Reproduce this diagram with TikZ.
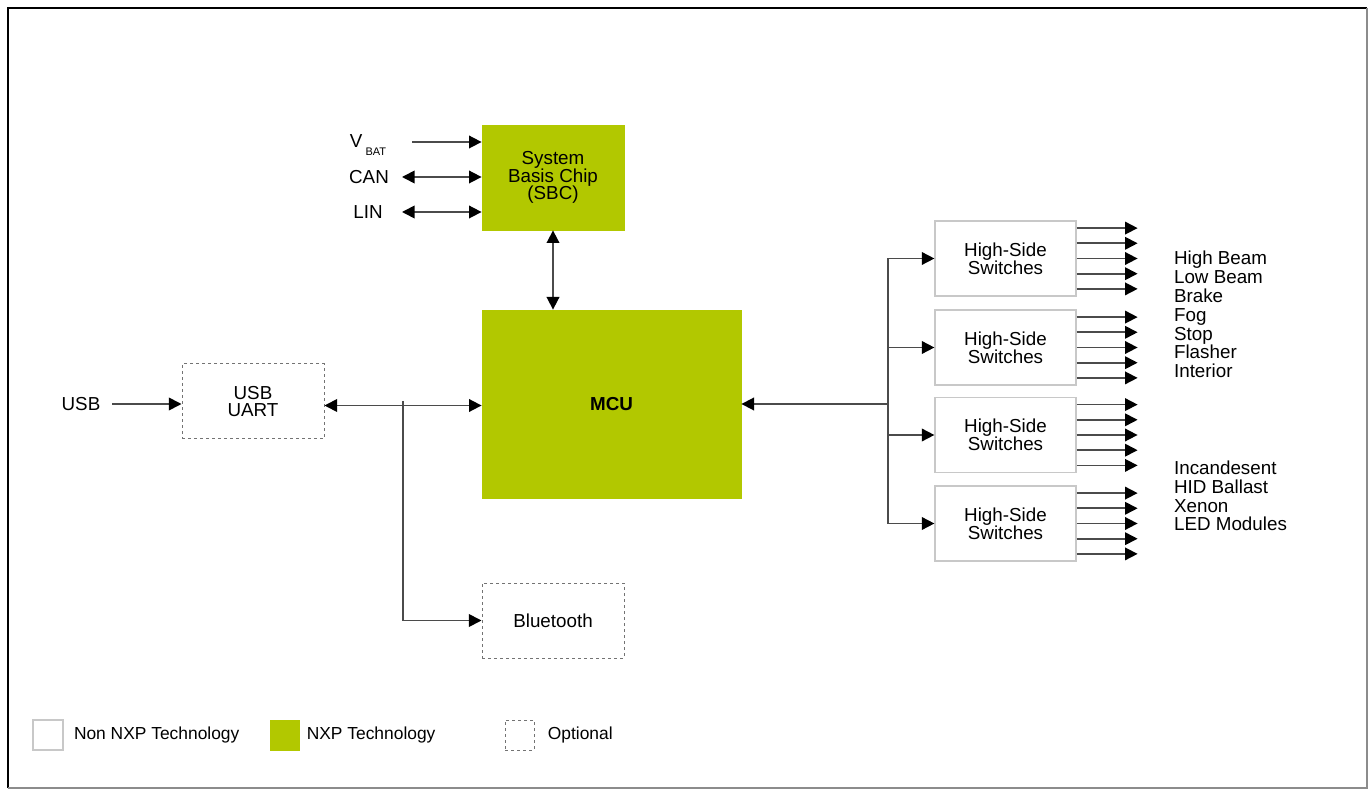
\documentclass[tikz,border=0pt]{standalone}
\usepackage{fontspec}
\setmainfont{Liberation Sans}
\usetikzlibrary{positioning,arrows.meta}
\definecolor{nxpgreen}{RGB}{178,200,0}
\definecolor{linegray}{RGB}{75,75,75}
\definecolor{boxgray}{RGB}{200,200,200}

\begin{document}
\begin{tikzpicture}[x=0.5pt,y=-0.5pt,
        font=\fontsize{9.4}{8.9}\selectfont,
        nxp/.style={fill=nxpgreen,draw=nxpgreen,align=center,inner sep=0pt},
        nonnxp/.style={draw=boxgray,line width=0.6pt,align=center,inner sep=0pt},
        optional/.style={draw=black!55,dash pattern=on 1.5pt off 1.5pt,line width=0.5pt,align=center,inner sep=0pt},
        arr/.style={draw=linegray,line width=0.85pt,-{Triangle[length=6.3pt,width=6.3pt,color=black]}},
        dbl/.style={draw=linegray,line width=0.85pt,{Triangle[length=6.3pt,width=6.3pt,color=black]}-{Triangle[length=6.3pt,width=6.3pt,color=black]}},
        legend/.style={inner sep=0pt,font=\fontsize{8.7}{9}\selectfont}]
    \useasboundingbox (0,0) rectangle (1369,790);
    % frame
    \draw[black,line width=1.2pt] (8,788) -- (8,8) -- (1367,8);
    \draw[black!45,line width=0.8pt] (8,788) -- (1367,788) -- (1367,8);

    % blocks
    \node[nxp,minimum width=71pt,minimum height=52.5pt] (sbc) at (553,177.5) {System\\Basis Chip\\(SBC)};
    \node[nxp,minimum width=129.5pt,minimum height=94pt,font=\fontsize{9.4}{9}\selectfont\bfseries] (mcu) at (611.5,404) {MCU};
    \node[optional,minimum width=71pt,minimum height=37.5pt] (uart) at (253,401.5) {USB\\UART};
    \node[optional,minimum width=71pt,minimum height=37.5pt] (bt) at (553,620.5) {Bluetooth};
    \foreach \i/\y in {1/258.5,2/347.5,3/435,4/523.5}
        \node[nonnxp,minimum width=70.5pt,minimum height=37.5pt] (sw\i) at (1005.5,\y) {High-Side\\Switches};

    % labels
    \node (usb) at (81,404) {USB};
    \node (vbat) at (368,145) {V\,\raisebox{-0.8ex}{\fontsize{5.5}{6}\selectfont BAT}};
    \node (can) at (369,177) {CAN};
    \node (lin) at (368,212) {LIN};
    \node[anchor=west,align=left,font=\fontsize{9.4}{9.4}\selectfont] (loadsa) at (1167,314.5) {High Beam\\Low Beam\\Brake\\Fog\\Stop\\Flasher\\Interior};
    \node[anchor=west,align=left,font=\fontsize{9.4}{9.4}\selectfont] (loadsb) at (1167,496) {Incandesent\\HID Ballast\\Xenon\\LED Modules};

    % free ends
    \coordinate (vbatin) at (412,142);
    \coordinate (canin) at (402,177);
    \coordinate (linin) at (402,212);
    \coordinate (usbin) at (112,404);
    \coordinate (btbranch) at (403,401);
    \coordinate (bus) at (888,404);

    % connectors
    \draw[arr] (vbatin) -- (vbatin -| sbc.west);
    \draw[dbl] (canin) -- (canin -| sbc.west);
    \draw[dbl] (linin) -- (linin -| sbc.west);
    \draw[dbl] (sbc.south) -- (sbc.south |- mcu.north);
    \draw[arr] (usbin) -- (usbin -| uart.west);
    \draw[dbl] ([yshift=-2pt]uart.east) -- ([yshift=-2pt]uart.east -| mcu.west);
    \draw[arr] (btbranch) |- (bt.west);
    \draw[arr] (bus) -- (mcu.east);
    \draw[linegray,line width=0.85pt] (bus |- sw1.west) -- (bus |- sw4.west);
    \foreach \i in {1,...,4} {
        \draw[arr] (bus |- sw\i.west) -- (sw\i.west);
        \foreach \k in {-2,...,2}
            \draw[arr] ([yshift=\k*7.6pt]sw\i.east) -- ++(30.5pt,0);
    }

    % legend
    \node[nonnxp,minimum width=15pt,minimum height=15pt] (legnon) at (48,735) {};
    \node[legend,right=5pt of legnon] (legnonlbl) {Non NXP Technology};
    \node[nxp,minimum width=14.5pt,minimum height=15pt] (legnxp) at (284.5,735) {};
    \node[legend,right=3.5pt of legnxp] (legnxplbl) {NXP Technology};
    \node[optional,minimum width=14.5pt,minimum height=15pt] (legopt) at (519.5,735) {};
    \node[legend,right=6.5pt of legopt] (legoptlbl) {Optional};
\end{tikzpicture}
\end{document}
